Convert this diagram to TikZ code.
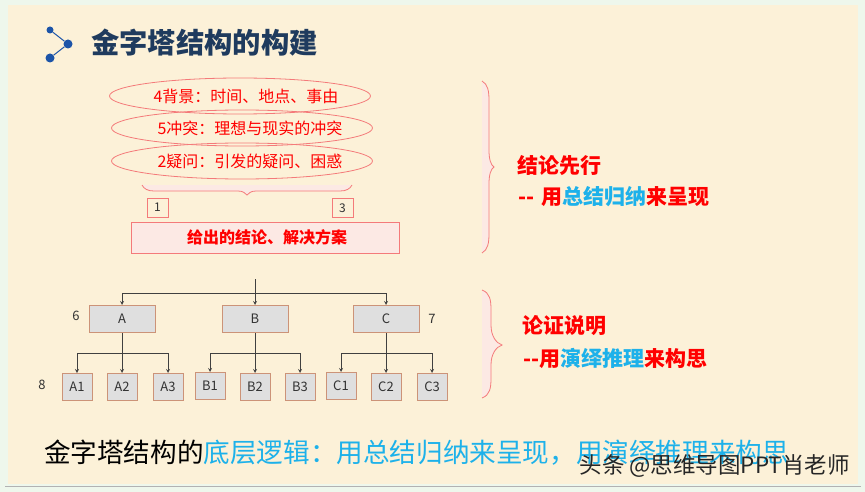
\documentclass[tikz,border=0pt]{standalone}
\usepackage{fontspec}
\setmainfont{Noto Sans CJK SC}
\usetikzlibrary{shapes.geometric}
\definecolor{paper}{HTML}{FCF1D8}
\definecolor{rim}{HTML}{EEF7EC}
\definecolor{navy}{HTML}{1F3B5E}
\definecolor{dotblue}{HTML}{1C54A8}
\definecolor{skyblue}{HTML}{1DB1EA}
\definecolor{redline}{HTML}{F47A7A}
\definecolor{pinkfill}{HTML}{FCE9E4}
\definecolor{tan}{HTML}{CC9378}
\definecolor{boxgrey}{HTML}{DFDFDF}
\definecolor{inkgrey}{HTML}{333333}
\newcommand{\sizept}[1]{\fontsize{#1}{#1}\selectfont}
\tikzset{
  oval/.style={ellipse,draw=redline,line width=0.8pt,inner sep=0pt,minimum width=261pt,minimum height=36pt},
  ovaltext/.style={inner sep=0pt,text=red,font=\sizept{16}},
  numbox/.style={draw=redline,line width=0.8pt,inner sep=0pt,minimum width=21pt,minimum height=19pt,text=inkgrey,font=\sizept{12}},
  topbox/.style={draw=tan,fill=boxgrey,line width=1pt,inner sep=0pt,minimum width=66pt,minimum height=27pt,text=black!80,font=\sizept{13}},
  leafbox/.style={draw=tan,fill=boxgrey,line width=1pt,inner sep=0pt,minimum width=30pt,minimum height=27pt,text=black!80,font=\sizept{13}},
  tagnum/.style={inner sep=0pt,text=inkgrey,font=\sizept{13}},
  treeline/.style={draw=black!75,line width=0.8pt},
  treearrow/.style={treeline,-stealth},
  heading/.style={anchor=west,inner sep=0pt,font=\sizept{21}\bfseries,text=red},
  dot/.style={circle,fill=dotblue,inner sep=0pt},
  bracket/.style={draw=redline,fill=pinkfill,line width=0.8pt}
}
\begin{document}
\begin{tikzpicture}[x=1pt,y=-1pt]
\useasboundingbox (0,0) rectangle (865,492);
\fill[rim] (0,0) rectangle (865,492);
\fill[paper] (8,5) rectangle (858,484);
\draw[black!30,line width=1pt] (5,486) -- (861,486);

\node[dot,minimum size=7pt] (dotA) at (50,30) {};
\node[dot,minimum size=9pt] (dotB) at (68,44) {};
\node[dot,minimum size=9pt] (dotC) at (50,58) {};
\draw[dotblue,line width=1pt] (dotA) -- (dotB) -- (dotC);
\node[anchor=west,inner sep=0pt,text=navy,font=\sizept{28.3}\bfseries] (title) at (91,43) {金字塔结构的构建};

\node[oval] (back) at (240,96) {};
\node[oval] (clash) at (242,128) {};
\node[oval] (doubt) at (242,161) {};
\node[ovaltext] (backtext) at (246,96) {4背景：时间、地点、事由};
\node[ovaltext] (clashtext) at (250,128) {5冲突：理想与现实的冲突};
\node[ovaltext] (doubttext) at (250,161) {2疑问：引发的疑问、困惑};

\draw[bracket] (142,185) .. controls (144,189) and (148,191) .. (154,191) -- (238,191)
  .. controls (243,191) and (245,193) .. (247,195) .. controls (249,193) and (251,191) .. (256,191)
  -- (340,191) .. controls (346,191) and (350,189) .. (352,185);
\node[numbox] (one) at (157.5,207.5) {1};
\node[numbox] (three) at (342.5,208) {3};
\node[draw=redline,fill=pinkfill,line width=1pt,minimum width=268pt,minimum height=31pt,inner sep=0pt,text=red,font=\sizept{16}\bfseries] (result) at (265,237.5) {\hspace{4pt}给出的结论、解决方案};

\draw[bracket] (482,81) .. controls (488,84) and (489,92) .. (489,100) -- (489,150)
  .. controls (489,160) and (491,165) .. (494,167) .. controls (491,169) and (489,174) .. (489,184)
  -- (489,234) .. controls (489,242) and (488,250) .. (482,253);
\draw[bracket] (482,290) .. controls (490,293) and (491,300) .. (491,310) -- (491,325)
  .. controls (491,336) and (496,343) .. (502,345) .. controls (496,347) and (491,354) .. (491,365)
  -- (491,378) .. controls (491,388) and (490,395) .. (482,398);

\node[heading] (lead) at (517,166) {结论先行};
\node[heading] (leadsub) at (518,197) {-{}-\hspace{7pt}用{\color{skyblue}总结归纳}来呈现};
\node[heading] (proof) at (522,326) {论证说明};
\node[heading] (proofsub) at (523,358) {-{}-用{\color{skyblue}演绎推理}来构思};

\coordinate (root) at (255,279);
\coordinate (hub) at (255,293);
\node[topbox] (A) at (122,319) {A};
\node[topbox] (B) at (255,319) {B};
\node[topbox] (C) at (386,319) {C};
\node[tagnum] (six) at (76,316) {6};
\node[tagnum] (seven) at (432,319) {7};
\node[tagnum] (eight) at (42,385) {8};

\node[leafbox] (A1) at (77,387) {A1};
\node[leafbox] (A2) at (122,387) {A2};
\node[leafbox] (A3) at (168,387) {A3};
\node[leafbox] (B1) at (210,386) {B1};
\node[leafbox] (B2) at (255,387) {B2};
\node[leafbox] (B3) at (300,387) {B3};
\node[leafbox] (C1) at (341,386) {C1};
\node[leafbox] (C2) at (386,387) {C2};
\node[leafbox] (C3) at (432,387) {C3};

\coordinate (hubA) at (122,353);
\coordinate (hubB) at (255,353);
\coordinate (hubC) at (386,353);

\draw[treearrow] (root) -- (B);
\draw[treearrow] (hub) -| (A);
\draw[treearrow] (hub) -| (C);
\draw[treearrow] (A) -- (A2);
\draw[treearrow] (hubA) -| (A1);
\draw[treearrow] (hubA) -| (A3);
\draw[treearrow] (B) -- (B2);
\draw[treearrow] (hubB) -| (B1);
\draw[treearrow] (hubB) -| (B3);
\draw[treearrow] (C) -- (C2);
\draw[treearrow] (hubC) -| (C1);
\draw[treearrow] (hubC) -| (C3);

\node[anchor=west,inner sep=0pt,text=black,font=\sizept{26.6}] (bottom) at (44,453) {金字塔结构的{\color{skyblue}底层逻辑：用总结归纳来呈现，用演绎推理来构思}};
\node[anchor=east,inner sep=0pt,text=black!85,font=\sizept{22.5}] (mark) at (850,466) {头条 @思维导图PPT肖老师};
\end{tikzpicture}
\end{document}
